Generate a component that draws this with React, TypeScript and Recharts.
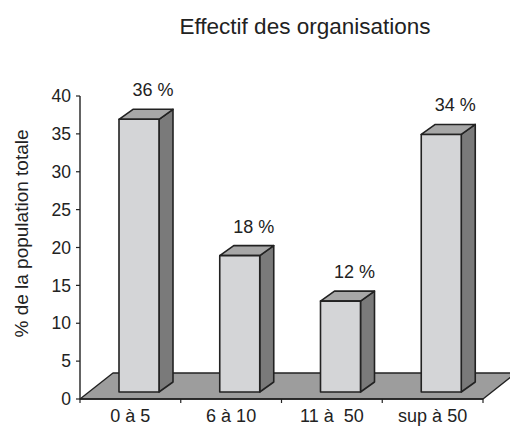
import { BarChart, Bar, XAxis, YAxis, ReferenceArea, LabelList } from 'recharts';

const categories = ['0 à 5', '6 à 10', '11 à  50', 'sup à 50'];
const percentages = [36, 18, 12, 34];
const yTicks = [0, 5, 10, 15, 20, 25, 30, 35, 40];

const data = categories.map((name, i) => ({ name, value: percentages[i] }));

const FONT = '"Liberation Sans", Arial, sans-serif';
const INK = '#222222';
// 3D depth offsets (px)
const FLOOR_DX = 33;
const FLOOR_DY = 26;
const BAR_FX = 9;
const BAR_FY = 7;
const BAR_BX = 23;
const BAR_BY = 17;

function Bar3D(props: any) {
  const { x, y, width, height } = props;
  const bottom = y + height;
  const fl = x + BAR_FX;
  const fr = x + width + BAR_FX;
  const ft = y - BAR_FY;
  const fb = bottom - BAR_FY;
  const bl = x + BAR_BX;
  const br = x + width + BAR_BX;
  const bt = y - BAR_BY;
  const bb = bottom - BAR_BY;
  return (
    <g stroke={INK} strokeWidth={1.6} strokeLinejoin="round">
      <polygon points={`${fr},${ft} ${br},${bt} ${br},${bb} ${fr},${fb}`} fill="#7a7a7a" />
      <polygon points={`${fl},${ft} ${bl},${bt} ${br},${bt} ${fr},${ft}`} fill="#a7a7a7" />
      <rect x={fl} y={ft} width={width} height={fb - ft} fill="#d4d5d7" />
    </g>
  );
}

function Floor(props: any) {
  const { x, y, width, height } = props;
  const front = y + height;
  const back = front - FLOOR_DY;
  const n = categories.length;
  const ticks = Array.from({ length: n + 1 }, (_, i) => x + (i * width) / n);
  return (
    <g>
      <polygon
        points={`${x},${front} ${x + FLOOR_DX},${back} ${x + width + FLOOR_DX},${back} ${x + width},${front}`}
        fill="#9d9d9d"
        stroke={INK}
        strokeWidth={1.4}
        strokeLinejoin="round"
      />
      {ticks.map((tx, i) => (
        <line key={i} x1={tx} x2={tx} y1={front} y2={front + 4} stroke={INK} strokeWidth={1.2} />
      ))}
    </g>
  );
}

function CategoryTick(props: any) {
  const { x, payload } = props;
  return (
    <text x={x} y={422} textAnchor="middle" fill={INK} fontSize={18} fontFamily={FONT} style={{ whiteSpace: 'pre' }}>
      {payload.value}
    </text>
  );
}

function ValueLabel(props: any) {
  const { x, y, width, value } = props;
  return (
    <text x={x + width / 2 + BAR_BX} y={y - BAR_BY - 13} textAnchor="middle" fill={INK} fontSize={18} fontFamily={FONT}>
      {`${value} %`}
    </text>
  );
}

function YTitle(props: any) {
  const { viewBox } = props;
  const cx = viewBox.x + 21;
  const cy = viewBox.y + viewBox.height / 2 - 14;
  return (
    <text x={cx} y={cy} transform={`rotate(-90 ${cx} ${cy})`} textAnchor="middle" dominantBaseline="central" fill={INK} fontSize={19} fontFamily={FONT}>
      % de la population totale
    </text>
  );
}

export default function App() {
  return (
    <div style={{ position: 'absolute', left: 0, top: 0, width: 510, height: 426, background: '#fff' }}>
      <svg width={510} height={60} style={{ position: 'absolute', left: 0, top: 0 }}>
        <text x={305} y={34} textAnchor="middle" fill={INK} fontSize={22.5} fontFamily={FONT}>
          Effectif des organisations
        </text>
      </svg>
      <BarChart width={510} height={426} data={data} margin={{ top: 96, right: 27, bottom: 0, left: 0 }} barSize={40}>
        <ReferenceArea y1={0} y2={2} ifOverflow="visible" shape={<Floor />} />
        <XAxis
          dataKey="name"
          height={27}
          axisLine={{ stroke: INK, strokeWidth: 1.4 }}
          tickLine={false}
          tick={<CategoryTick />}
          interval={0}
        />
        <YAxis
          width={80}
          domain={[0, 40]}
          ticks={yTicks}
          interval={0}
          axisLine={{ stroke: INK, strokeWidth: 1.4 }}
          tickLine={{ stroke: INK, strokeWidth: 1.2 }}
          tickSize={4}
          tickMargin={5}
          tick={{ fill: INK, fontSize: 17.5, fontFamily: FONT }}
          label={<YTitle />}
        />
        <Bar dataKey="value" shape={<Bar3D />} isAnimationActive={false}>
          <LabelList dataKey="value" content={<ValueLabel />} />
        </Bar>
      </BarChart>
    </div>
  );
}
